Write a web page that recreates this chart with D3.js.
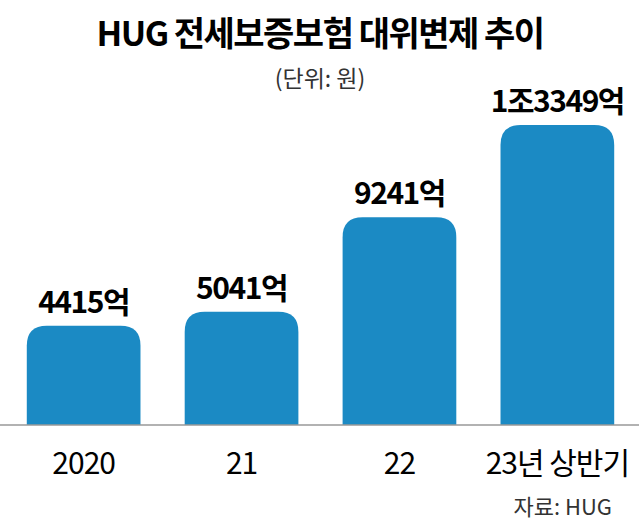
<!DOCTYPE html>
<html><head><meta charset="utf-8">
<script src="https://cdn.jsdelivr.net/npm/d3@7"></script>
<style>body{margin:0;background:#fff}</style>
</head><body>
<svg id="chart" width="639" height="527"></svg>
<script>
const categories = ["2020", "21", "22", "23년 상반기"];
const values = [4415, 5041, 9241, 13349];
const valueLabels = ["4415억", "5041억", "9241억", "1조3349억"];

const font = "'Noto Sans CJK KR', sans-serif";
const svg = d3.select("#chart");
const baseY = 425;

const x = d3.scaleBand().domain(categories).range([11, 630]).paddingInner(0.28).paddingOuter(0.1);
const y = d3.scaleLinear().domain([0, 13349]).range([baseY, 125]);

svg.append("text").attr("x", 320).attr("y", 46).attr("text-anchor", "middle")
    .attr("font-family", font).attr("font-weight", 700).attr("font-size", 34)
    .attr("letter-spacing", -1.5).text("HUG 전세보증보험 대위변제 추이");
svg.append("text").attr("x", 320).attr("y", 87).attr("text-anchor", "middle")
    .attr("font-family", font).attr("font-size", 23).attr("fill", "#333").text("(단위: 원)");

const r = 20;
svg.selectAll("path.bar").data(values).join("path").attr("class", "bar")
    .attr("fill", "#1b8ac4")
    .attr("d", (d, i) => {
        const x0 = x(categories[i]), x1 = x0 + x.bandwidth(), top = y(d);
        return `M${x0},${baseY}V${top + r}Q${x0},${top} ${x0 + r},${top}H${x1 - r}Q${x1},${top} ${x1},${top + r}V${baseY}Z`;
    });

svg.append("line").attr("x1", 0).attr("x2", 639).attr("y1", baseY).attr("y2", baseY)
    .attr("stroke", "#999").attr("stroke-width", 1.5);

svg.selectAll("text.val").data(values).join("text").attr("class", "val")
    .attr("x", (d, i) => x(categories[i]) + x.bandwidth() / 2)
    .attr("y", d => y(d) - 13).attr("text-anchor", "middle")
    .attr("font-family", font).attr("font-weight", 700).attr("font-size", 30)
    .attr("letter-spacing", -1.5).text((d, i) => valueLabels[i]);

svg.selectAll("text.cat").data(categories).join("text").attr("class", "cat")
    .attr("x", d => x(d) + x.bandwidth() / 2).attr("y", 474).attr("text-anchor", "middle")
    .attr("font-family", font).attr("font-size", 30).attr("letter-spacing", -1).text(d => d);

svg.append("text").attr("x", 612).attr("y", 515).attr("text-anchor", "end")
    .attr("font-family", font).attr("font-size", 22).attr("fill", "#333").text("자료: HUG");
</script>
</body></html>
